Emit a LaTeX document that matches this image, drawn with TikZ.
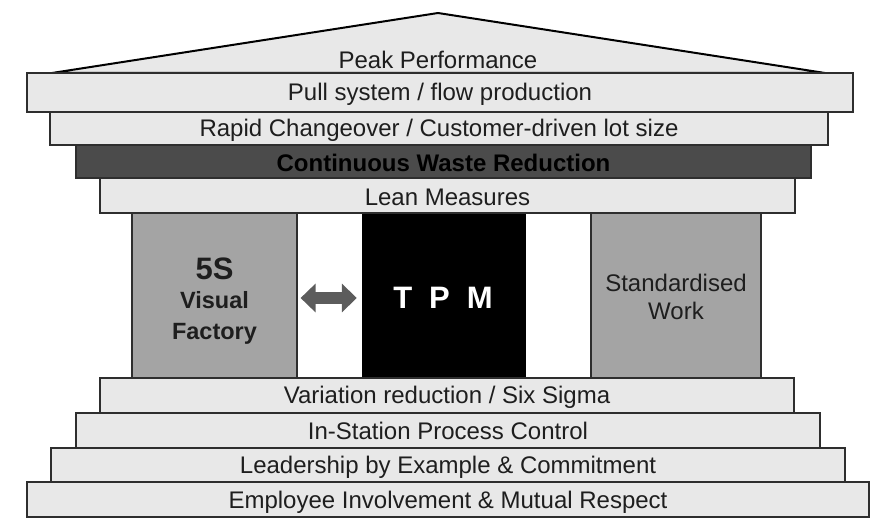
\documentclass[tikz,border=0pt]{standalone}
\usepackage{fontspec}
\setmainfont{Liberation Sans}
\usetikzlibrary{arrows.meta}
\definecolor{barfill}{HTML}{E8E8E8}
\definecolor{barline}{HTML}{2E2E2E}
\definecolor{wastefill}{HTML}{4B4B4B}
\definecolor{pillarfill}{HTML}{A4A4A4}
\definecolor{arrowgray}{HTML}{5C5C5C}
\definecolor{txt}{HTML}{1E1E1E}
\begin{document}
\begin{tikzpicture}[x=1pt,y=-1pt,
  bar/.style={draw=barline, fill=barfill, line width=1.6pt, inner sep=0pt,
    text=txt, font=\fontsize{24}{26}\selectfont, text height=17pt, text depth=0pt},
  wastebar/.style={bar, fill=wastefill, text=black, font=\fontsize{24}{26}\selectfont\bfseries},
  pillar/.style={draw=barline, fill=pillarfill, line width=1.2pt, inner sep=0pt},
  tpmbox/.style={draw=black, fill=black, inner sep=0pt},
  label/.style={inner sep=0pt, text=txt, text depth=0pt},
  roofline/.style={draw=black, line width=2pt, line join=round}]
\useasboundingbox (0,0) rectangle (871,521);

% roof
\coordinate (rl) at (52,73);
\coordinate (apex) at (438,13);
\coordinate (rr) at (825,73);
\draw[roofline, fill=barfill] (rl) -- (apex) -- (rr) -- cycle;
\node[label, font=\fontsize{24}{26}\selectfont, text height=17pt] (peak) at (438,60) {Peak Performance};

% pillars
\node[pillar, minimum width=165pt, minimum height=165pt] (p1) at (214.5,295.5) {};
\node[tpmbox, minimum width=163pt, minimum height=165pt] (tpm) at (443.5,295.5) {};
\node[pillar, minimum width=170pt, minimum height=165pt] (p3) at (676,295.5) {};

% top bars
\node[bar, minimum width=826pt, minimum height=39pt] (b1) at (440,92.5) {Pull system / flow production};
\node[bar, minimum width=778pt, minimum height=33pt] (b2) at (439,128.5) {Rapid Changeover / Customer-driven lot size};
\node[wastebar, minimum width=735pt, minimum height=33pt] (b3) at (443.5,161.5) {\raisebox{-2pt}{Continuous Waste Reduction}};
\node[bar, minimum width=695pt, minimum height=35pt] (b4) at (447.5,195.5) {\raisebox{-2pt}{Lean Measures}};

% steps
\node[bar, minimum width=694pt, minimum height=35pt] (s1) at (447,395.5) {Variation reduction / Six Sigma};
\node[bar, minimum width=744pt, minimum height=35pt] (s2) at (448,430.5) {In-Station Process Control};
\node[bar, minimum width=794pt, minimum height=34pt] (s3) at (448,465) {Leadership by Example \& Commitment};
\node[bar, minimum width=842pt, minimum height=35pt] (s4) at (448,499.5) {Employee Involvement \& Mutual Respect};

% pillar labels
\node[label, font=\fontsize{31}{33}\selectfont\bfseries, text height=22pt] (fiveS) at (214.5,268.5) {5S};
\node[label, font=\fontsize{23.5}{26}\selectfont\bfseries, text height=17pt] (visual) at (214.5,300) {Visual};
\node[label, font=\fontsize{23.5}{26}\selectfont\bfseries, text height=17pt] (factory) at (214.5,331) {Factory};
\node[label, text=white, font=\fontsize{31}{33}\selectfont\bfseries, text height=22pt] (tpmtext) at (443,298) {T\hspace{17pt}P\hspace{17pt}M};
\node[label, font=\fontsize{24}{26}\selectfont, text height=17pt] (std) at (676,283.5) {Standardised};
\node[label, font=\fontsize{24}{26}\selectfont, text height=17pt] (work) at (676,311.5) {Work};

% double arrow
\draw[arrowgray, line width=12pt,
  {Triangle[length=15pt,width=28pt]}-{Triangle[length=15pt,width=28pt]}]
  ([xshift=3pt,yshift=-2.5pt]p1.east) -- ([xshift=-5pt,yshift=-2.5pt]tpm.west);
\end{tikzpicture}
\end{document}
